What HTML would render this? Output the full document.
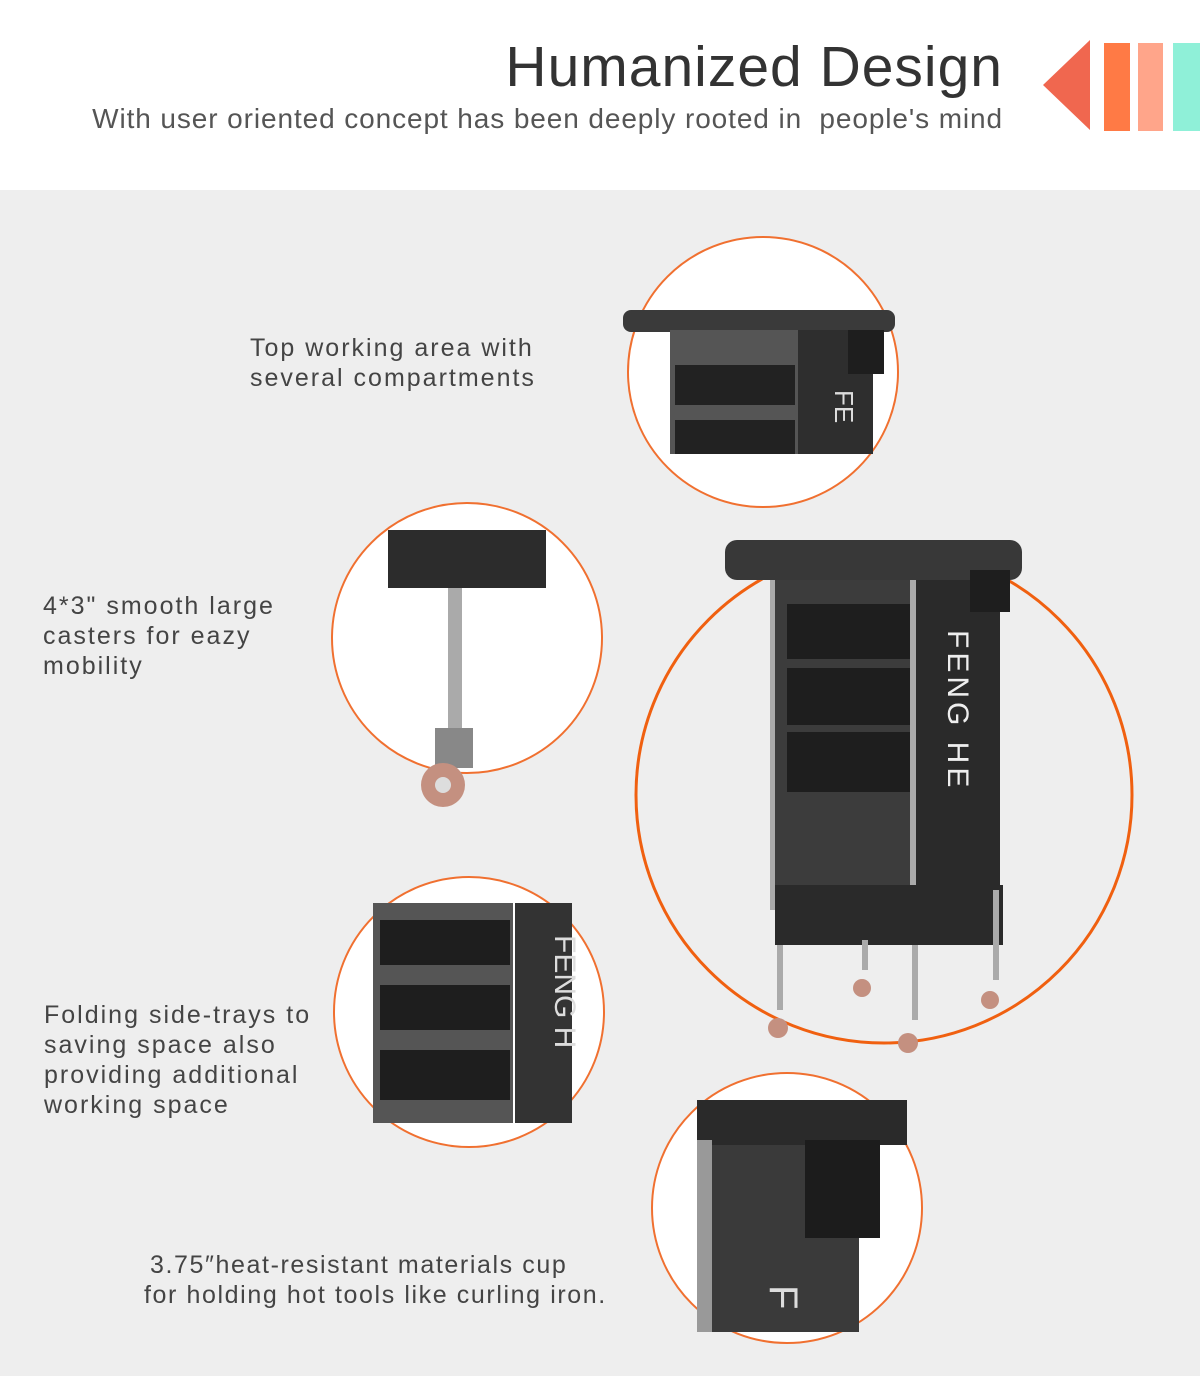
<!DOCTYPE html>
<html><head><meta charset="utf-8"><style>
body{margin:0;width:1200px;height:1376px;overflow:hidden;background:#eeeeee;font-family:"Liberation Sans",sans-serif}
.hdr{position:absolute;left:0;top:0;width:1200px;height:190px;background:#fff}
.t{position:absolute;color:#444;font-size:25px;letter-spacing:2px;line-height:30px;white-space:nowrap}
</style></head><body>
<div class="hdr"></div>
<div style="position:absolute;right:197px;top:34px;font-size:57px;color:#333;letter-spacing:1px">Humanized Design</div>
<div style="position:absolute;right:197px;top:103px;font-size:28px;letter-spacing:0.9px;color:#555;white-space:pre">With user oriented concept has been deeply rooted in  people's mind</div>
<svg style="position:absolute;left:0;top:0" width="1200" height="1376">
<polygon points="1090,40 1090,130 1043,85" fill="#f0674f"/>
<rect x="1104" y="43" width="26" height="88" fill="#ff7a45"/>
<rect x="1138" y="43" width="25" height="88" fill="#ffa58a"/>
<rect x="1173" y="43" width="27" height="88" fill="#8ff0d8"/>
<circle cx="763" cy="372" r="135" fill="#fff" stroke="#f07030" stroke-width="2"/>
<g>
<rect x="623" y="310" width="272" height="22" rx="8" fill="#3a3a3a"/>
<rect x="670" y="330" width="130" height="124" fill="#555"/>
<rect x="798" y="330" width="75" height="124" fill="#2e2e2e"/>
<rect x="675" y="365" width="120" height="40" fill="#222"/>
<rect x="675" y="420" width="120" height="34" fill="#222"/>
<rect x="848" y="330" width="36" height="44" fill="#1e1e1e"/>
<text x="835" y="390" fill="#ddd" font-size="26" transform="rotate(90 835 390)">FE</text>
</g>
<circle cx="467" cy="638" r="135" fill="#fff" stroke="#f07030" stroke-width="2"/>
<rect x="388" y="530" width="158" height="58" fill="#2c2c2c"/>
<rect x="448" y="588" width="14" height="140" fill="#aaa"/>
<rect x="435" y="728" width="38" height="40" fill="#888"/>
<circle cx="443" cy="785" r="22" fill="#c49080"/>
<circle cx="443" cy="785" r="8" fill="#ddd"/>
<circle cx="469" cy="1012" r="135" fill="#fff" stroke="#f07030" stroke-width="2"/>
<rect x="373" y="903" width="140" height="220" fill="#555"/>
<rect x="515" y="903" width="57" height="220" fill="#333"/>
<rect x="380" y="920" width="130" height="45" fill="#1e1e1e"/>
<rect x="380" y="985" width="130" height="45" fill="#1e1e1e"/>
<rect x="380" y="1050" width="130" height="50" fill="#1e1e1e"/>
<text x="555" y="935" fill="#ddd" font-size="30" transform="rotate(90 555 935)">FENG H</text>
<circle cx="787" cy="1208" r="135" fill="#fff" stroke="#f07030" stroke-width="2"/>
<rect x="697" y="1100" width="162" height="232" fill="#3a3a3a"/>
<rect x="697" y="1100" width="210" height="45" fill="#2a2a2a"/>
<rect x="805" y="1140" width="75" height="98" fill="#1c1c1c"/>
<rect x="697" y="1140" width="15" height="192" fill="#999"/>
<text x="770" y="1285" fill="#ddd" font-size="40" transform="rotate(90 770 1285)">F</text>
<circle cx="884" cy="795" r="248" fill="none" stroke="#f06010" stroke-width="3"/>
<g>
<rect x="775" y="580" width="140" height="335" fill="#3c3c3c"/>
<rect x="915" y="580" width="85" height="310" fill="#2a2a2a"/>
<rect x="910" y="580" width="6" height="360" fill="#aaa"/>
<rect x="770" y="580" width="5" height="330" fill="#aaa"/>
<rect x="725" y="540" width="297" height="40" rx="12" fill="#383838"/>
<rect x="970" y="570" width="40" height="42" fill="#1e1e1e"/>
<rect x="787" y="604" width="123" height="55" fill="#1e1e1e"/>
<rect x="787" y="668" width="123" height="57" fill="#1e1e1e"/>
<rect x="787" y="732" width="123" height="60" fill="#1e1e1e"/>
<rect x="775" y="885" width="228" height="60" fill="#2a2a2a"/>
<rect x="777" y="945" width="6" height="65" fill="#aaa"/>
<rect x="912" y="945" width="6" height="75" fill="#aaa"/>
<rect x="993" y="890" width="6" height="90" fill="#aaa"/>
<rect x="862" y="940" width="6" height="30" fill="#aaa"/>
<circle cx="778" cy="1028" r="10" fill="#c49080"/>
<circle cx="908" cy="1043" r="10" fill="#c49080"/>
<circle cx="990" cy="1000" r="9" fill="#c49080"/>
<circle cx="862" cy="988" r="9" fill="#c49080"/>
<text x="948" y="630" fill="#eee" font-size="30" letter-spacing="4" transform="rotate(90 948 630)">FENG HE</text>
</g>
</svg>
<div class="t" style="left:250px;top:333px">Top working area with<br>several compartments</div>
<div class="t" style="left:43px;top:591px">4*3" smooth large<br>casters for eazy<br>mobility</div>
<div class="t" style="left:44px;top:1000px">Folding side-trays to<br>saving space also<br>providing additional<br>working space</div>
<div class="t" style="left:144px;top:1250px;letter-spacing:1.6px"><span style="margin-left:6px">3.75″</span>heat-resistant materials cup<br>for holding hot tools like curling iron.</div>
</body></html>
